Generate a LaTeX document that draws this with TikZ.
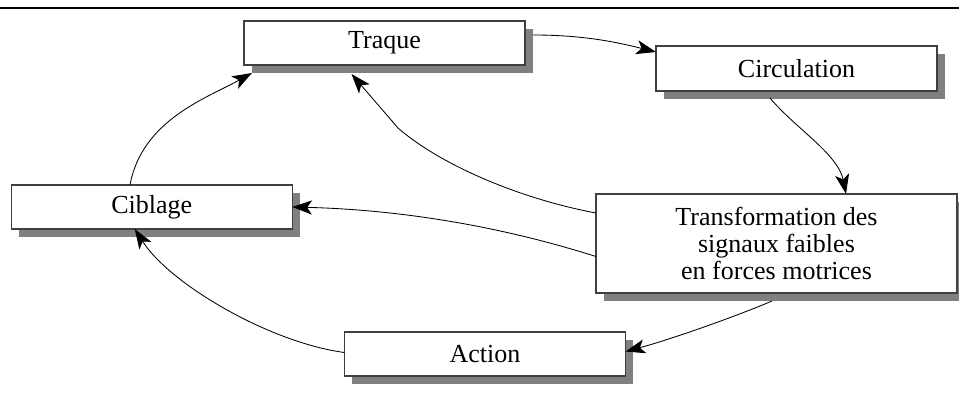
\documentclass[tikz,border=0pt]{standalone}
\usepackage{fontspec}
\setmainfont{Liberation Serif}
\usetikzlibrary{arrows.meta,shadows,calc}

\begin{document}
\begin{tikzpicture}[x=0.025cm,y=-0.025cm,
 >={Stealth[length=14pt,width=10pt,inset=3.5pt]},
 stage/.style={draw=black!75,line width=0.8pt,fill=white,align=center,inner sep=0pt,outer sep=0pt,
  minimum width=7.025cm,minimum height=1.1cm,font=\fontsize{18.5}{19.5}\selectfont,
  drop shadow={fill=black!50,opacity=1,shadow xshift=0.19cm,shadow yshift=-0.19cm}},
 widestage/.style={stage,minimum width=9.025cm,minimum height=2.475cm},
 flow/.style={->,line width=0.6pt}]
\useasboundingbox (0,0) rectangle (959,399);
\draw[line width=1pt] (0,8) -- (959,8);
\node[stage] (traque) at (384.5,43) {Traque};
\node[stage,minimum height=1.125cm] (circ) at (796.5,68.5) {Circulation};
\node[stage] (cib) at (151.75,207) {Ciblage};
\node[widestage] (trans) at (776.5,243.5) {Transformation des\\signaux faibles\\en forces motrices};
\node[stage] (act) at (485,354) {Action};
\coordinate (kink) at (398,128);
\draw[flow] ($(traque.east)+(8,-8)$) .. controls +(50,0) and +(-40,-10) .. ($(circ.north west)+(0,6)$);
\draw[flow] ($(circ.south)+(-26.5,7)$) .. controls +(25,30) and +(-8,-40) .. ($(trans.north)+(69.5,0)$);
\draw[flow] ($(trans.south)+(-4.5,8)$) .. controls +(-35,15) and +(45,-12) .. ($(act.east)+(0,-2.5)$);
\draw[flow] ($(act.west)+(0,-1.5)$) .. controls +(-75,-10) and +(35,55) .. ($(cib.south)+(-17,0)$);
\draw[flow] ($(cib.north)+(-21.75,0)$) .. controls +(12,-65) and +(-45,25) .. ($(traque.south west)+(8,8)$);
\draw[flow] ($(trans.west)+(0,-30.5)$) .. controls +(-80,-15) and +(40,35) .. (kink) -- ($(traque.south)+(-33,9)$);
\draw[flow] ($(trans.west)+(0,13)$) .. controls +(-120,-38) and +(80,2) .. (cib.east);
\end{tikzpicture}
\end{document}
